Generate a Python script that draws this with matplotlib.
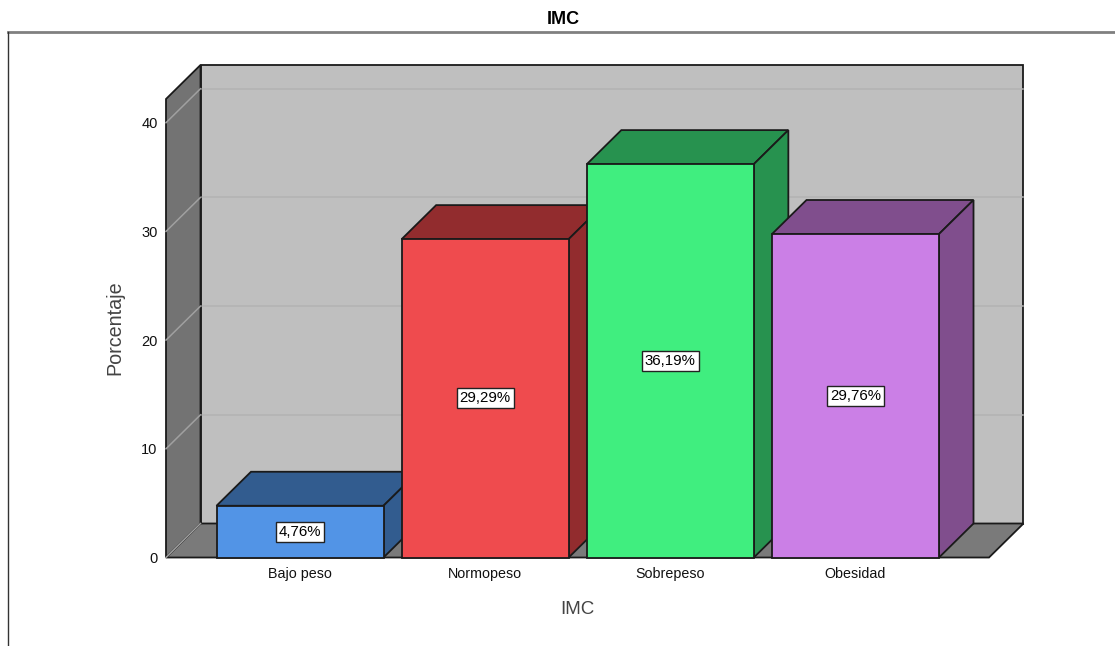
import matplotlib
matplotlib.use("Agg")
import matplotlib.pyplot as plt
from matplotlib.patches import Polygon
from matplotlib.lines import Line2D

plt.rcParams['font.family'] = ['Liberation Sans', 'DejaVu Sans']

categories = ["Bajo peso", "Normopeso", "Sobrepeso", "Obesidad"]
values = [4.76, 29.29, 36.19, 29.76]
labels = ["4,76%", "29,29%", "36,19%", "29,76%"]
front_colors = ["#5294e6", "#ef4b4e", "#40ee7f", "#cb7fe6"]
side_colors = ["#325c8f", "#922c2e", "#27924f", "#804e8d"]
y_ticks = [0, 10, 20, 30, 40]

W, H = 1115, 646
fig = plt.figure(figsize=(W / 100, H / 100), dpi=100, facecolor="white")

# Axes box is the front face of the 3D chart frame
left, right, bottom, top = 166, 989, 557.5, 99
ax = fig.add_axes([left / W, 1 - bottom / H, (right - left) / W, (bottom - top) / H])
spacing = 185.17
xmin = (left - 300) / spacing
xmax = (right - 300) / spacing
px_per_unit = 10.87
ymax = (bottom - top) / px_per_unit
ax.set_xlim(xmin, xmax)
ax.set_ylim(0, ymax)
ax.patch.set_visible(False)
for s in ax.spines.values():
    s.set_visible(False)

dx = 34.5 / spacing
dy = 34 / px_per_unit
bar_w = 167 / spacing
edge = "#1a1a1a"


def poly(pts, fc, z, lw=1.3, ec=edge):
    ax.add_patch(Polygon(pts, closed=True, facecolor=fc, edgecolor=ec, linewidth=lw,
                         joinstyle="miter", clip_on=False, zorder=z))


# Back wall, floor and left wall
poly([(xmin + dx, dy), (xmax + dx, dy), (xmax + dx, ymax + dy), (xmin + dx, ymax + dy)], "#bfbfbf", 1)
poly([(xmin, 0), (xmax, 0), (xmax + dx, dy), (xmin + dx, dy)], "#7a7a7a", 1.1)
poly([(xmin, 0), (xmin + dx, dy), (xmin + dx, ymax + dy), (xmin, ymax)], "#737373", 1.2)

# Gridlines across the back wall and down the left wall
for t in y_ticks:
    if t > 0:
        ax.add_line(Line2D([xmin + dx, xmax + dx], [t + dy, t + dy], color="#b3b3b3", lw=1.1,
                           clip_on=False, zorder=1.05))
    ax.add_line(Line2D([xmin, xmin + dx], [t, t + dy], color="#a0a0a0", lw=1.1,
                       clip_on=False, zorder=1.3))

# Bars, left to right so that each front face covers its neighbour's side
for i, (v, lab, fc, sc) in enumerate(zip(values, labels, front_colors, side_colors)):
    z = 2 + i
    x0, x1 = i - bar_w / 2, i + bar_w / 2
    poly([(x0, v), (x1, v), (x1 + dx, v + dy), (x0 + dx, v + dy)], sc, z)
    poly([(x1, 0), (x1 + dx, dy), (x1 + dx, v + dy), (x1, v)], sc, z)
    poly([(x0, 0), (x1, 0), (x1, v), (x0, v)], fc, z)
    ax.text(i, v / 2, lab, ha="center", va="center", fontsize=10.8, color="black", zorder=10,
            bbox=dict(boxstyle="square,pad=0.2", facecolor="white", edgecolor="#222222", linewidth=1))

ax.set_xticks(range(len(categories)))
ax.set_xticklabels(categories, fontsize=10.3, color="#111111")
ax.set_yticks(y_ticks)
ax.set_yticklabels([str(t) for t in y_ticks], fontsize=10.5, color="#111111")
ax.tick_params(axis="both", length=0)
ax.tick_params(axis="x", pad=6.5)
ax.tick_params(axis="y", pad=6)

fig.text(114.5 / W, 1 - 328 / H, "Porcentaje", rotation=90, ha="center", va="center",
         fontsize=14.2, color="#444444")
fig.text(577.5 / W, 1 - 610 / H, "IMC", ha="center", va="center", fontsize=13.5, color="#444444")
fig.text(563.5 / W, 1 - 19.5 / H, "IMC", ha="center", va="center", fontsize=13,
         fontweight="bold", color="black")

# Outer chart frame, open at the right and bottom
fig.add_artist(Line2D([8 / W, 1], [1 - 32 / H, 1 - 32 / H], color="#808080", lw=2))
fig.add_artist(Line2D([8 / W, 8 / W], [1 - 32 / H, 0], color="#333333", lw=1))

fig.savefig("out.png", dpi=100, facecolor="white")
